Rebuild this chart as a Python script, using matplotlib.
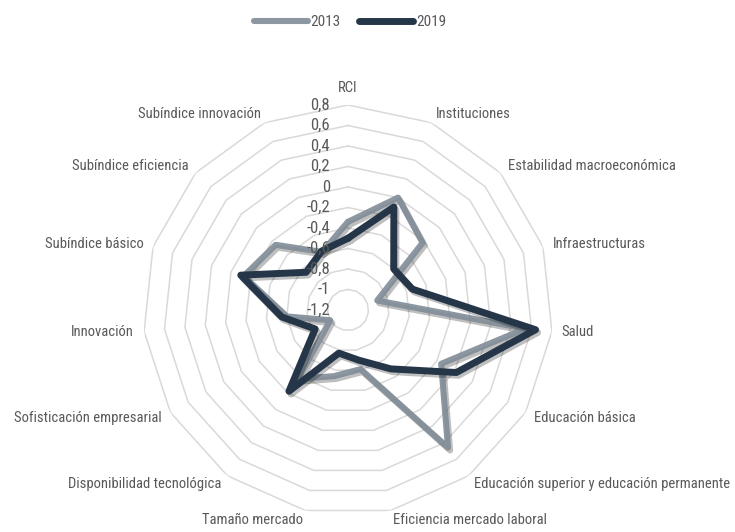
import numpy as np
import matplotlib
matplotlib.use('Agg')
import matplotlib.pyplot as plt
import matplotlib.patheffects as pe
from matplotlib import font_manager

# categorias del radar (sentido horario desde arriba)
categorias = ['RCI', 'Instituciones', 'Estabilidad macroeconómica', 'Infraestructuras',
              'Salud', 'Educación básica', 'Educación superior y educación permanente',
              'Eficiencia mercado laboral', 'Tamaño mercado', 'Disponibilidad tecnológica',
              'Sofisticación empresarial', 'Innovación', 'Subíndice básico',
              'Subíndice eficiencia', 'Subíndice innovación']

valores_2013 = [-0.34, 0.0, -0.22, -0.90, 0.54, -0.15, 0.46, -0.61, -0.54, -0.37,
                -1.0, -0.60, -0.13, -0.25, -0.58]
valores_2019 = [-0.50, -0.10, -0.60, -0.54, 0.64, 0.02, -0.49, -0.70, -0.77, -0.22,
                -0.83, -0.55, -0.10, -0.65, -0.57]

ticks = [-1.2, -1.0, -0.8, -0.6, -0.4, -0.2, 0.0, 0.2, 0.4, 0.6, 0.8]
tick_labels = ['-1,2', '-1', '-0,8', '-0,6', '-0,4', '-0,2', '0', '0,2', '0,4', '0,6', '0,8']


def buscar_fuente_estrecha():
    # busca una fuente condensada instalada (la original es tipo Agency)
    fuentes = font_manager.fontManager.ttflist
    preferidas = ['Liberation Sans Narrow', 'DejaVu Sans Condensed', 'Roboto Condensed',
                  'Open Sans Condensed', 'Noto Sans Condensed', 'Noto Sans ExtraCondensed']
    for nombre in preferidas:
        for f in fuentes:
            if f.name == nombre and f.weight in (400, 'normal', 'regular') and f.style == 'normal':
                return f.fname
    for f in fuentes:
        ruta = f.fname.lower()
        if ('condensed' in ruta or 'narrow' in ruta) and 'bold' not in ruta and 'italic' not in ruta \
                and 'oblique' not in ruta and 'light' not in ruta and 'mono' not in ruta \
                and 'serif' not in ruta.replace('sans', ''):
            return f.fname
    for f in fuentes:
        st = f.stretch
        if isinstance(st, str) and 'condensed' in st and f.style == 'normal' and f.weight in (400, 'normal'):
            return f.fname
    return None


ruta = buscar_fuente_estrecha()
if ruta:
    fp = font_manager.FontProperties(fname=ruta)
    escala = 1.0
else:
    fp = font_manager.FontProperties(family='DejaVu Sans', stretch='condensed')
    escala = 0.85

gris_texto = '#595959'
color_2013 = '#808c97'
color_2019 = '#253649'

fig = plt.figure(figsize=(7.35, 5.32), dpi=100)
ax = fig.add_axes([143 / 735, 17 / 532, 410 / 735, 410 / 532], projection='polar')
ax.set_theta_zero_location('N')
ax.set_theta_direction(-1)
ax.set_ylim(ticks[0], ticks[-1])

n = len(categorias)
angulos = np.arange(n) * 2 * np.pi / n
cerrado = np.append(angulos, angulos[0])

# rejilla poligonal
for t in ticks[1:]:
    ax.plot(cerrado, [t] * (n + 1), color='#d9d9d9', lw=1.1, zorder=1)

ax.grid(False)
ax.spines['polar'].set_visible(False)
ax.set_xticks([])
ax.set_yticks([])

sombra = [pe.SimpleLineShadow(offset=(1.5, -2), shadow_color='k', alpha=0.25), pe.Normal()]
ax.plot(cerrado, valores_2013 + valores_2013[:1], color=color_2013, lw=4.4, alpha=0.9,
        solid_joinstyle='round', solid_capstyle='round', path_effects=sombra, zorder=3, label='2013')
ax.plot(cerrado, valores_2019 + valores_2019[:1], color=color_2019, lw=5,
        solid_joinstyle='round', solid_capstyle='round', path_effects=sombra, zorder=4, label='2019')

# etiquetas del eje de valores
for t, lab in zip(ticks, tick_labels):
    ax.annotate(lab, xy=(0, t), xytext=(-18, 0), textcoords='offset pixels',
                ha='right', va='center', fontproperties=fp, fontsize=12 * escala,
                color=gris_texto, zorder=5)

# etiquetas de categorias
for ang, cat in zip(angulos, categorias):
    s, c = np.sin(ang), np.cos(ang)
    if s > 0.1:
        ha = 'left'
    elif s < -0.1:
        ha = 'right'
    else:
        ha = 'center'
    va = 'bottom' if c > 0.99 else 'center'
    ax.annotate(cat, xy=(ang, ticks[-1]), xytext=(10 * s, 10 * c), textcoords='offset pixels',
                ha=ha, va=va, fontproperties=fp, fontsize=10.5 * escala, color=gris_texto,
                annotation_clip=False)

prop_leyenda = fp.copy()
prop_leyenda.set_size(11 * escala)
leg = fig.legend(loc='center', bbox_to_anchor=(350 / 735, 1 - 22 / 532), ncol=2, frameon=False,
                 prop=prop_leyenda, handlelength=3.5, handletextpad=0.2, columnspacing=1.2,
                 labelcolor=gris_texto)
for h in leg.legend_handles:
    h.set_path_effects([])
    h.set_solid_capstyle('round')

fig.savefig('out.png', dpi=100)
